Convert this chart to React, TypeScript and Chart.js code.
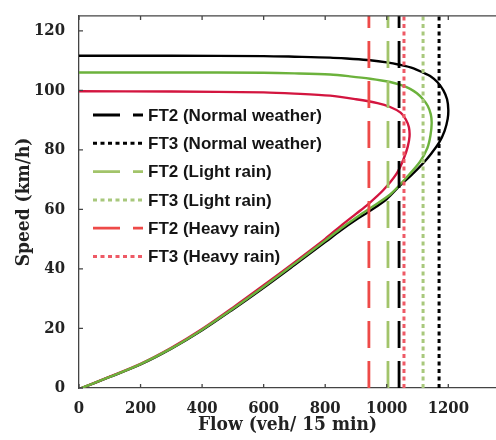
import React, { useEffect, useRef } from 'react';
import { Chart, registerables } from 'chart.js';

Chart.register(...registerables);

// Speed-flow curves (flow in veh/15 min, speed in km/h)
const normalFlow = [8, 100, 200, 300, 400, 500, 600, 700, 800, 850, 900, 946, 1000, 1041, 1080, 1119, 1145, 1170, 1188, 1198, 1200, 1196, 1184, 1165, 1141, 1119, 1087, 1041, 1000, 946, 880, 816, 700, 600, 300, 0];
const normalSpeed = [0, 3.7, 7.9, 13.2, 19.4, 26.4, 33.7, 41.3, 49.0, 52.9, 56.5, 59.5, 63.5, 67.8, 71.5, 75.6, 78.8, 82.4, 86.4, 90.4, 93.5, 97.0, 100.0, 102.7, 104.8, 105.9, 107.4, 108.6, 109.4, 110.1, 110.6, 111.0, 111.3, 111.5, 111.6, 111.6];

const lightFlow = [8, 100, 200, 300, 400, 500, 600, 700, 800, 850, 900, 946, 1011, 1065, 1108, 1132, 1142, 1146, 1143, 1133, 1118, 1098, 1076, 1045, 1011, 946, 880, 816, 700, 600, 300, 0];
const lightSpeed = [0, 3.7, 8.0, 13.3, 19.6, 26.6, 34.0, 41.7, 49.5, 53.5, 57.2, 60.4, 65.0, 70.8, 76.0, 80.6, 84.8, 89.0, 92.0, 94.8, 97.0, 99.0, 100.5, 101.8, 102.8, 103.9, 104.7, 105.3, 105.7, 105.9, 106.0, 106.0];

const heavyFlow = [8, 100, 200, 300, 400, 500, 600, 700, 800, 850, 900, 940, 989, 1032, 1055, 1068, 1074, 1072, 1062, 1045, 1011, 970, 900, 816, 700, 600, 300, 0];
const heavySpeed = [0, 3.8, 8.1, 13.5, 19.8, 27.0, 34.5, 42.2, 50.1, 54.4, 58.5, 61.8, 66.5, 72.0, 77.0, 81.0, 84.5, 87.6, 90.2, 92.5, 94.4, 95.7, 97.0, 98.2, 98.9, 99.3, 99.6, 99.7];

// Capacity lines (vertical)
const capacityLabels = ['FT2 (Normal weather)', 'FT3 (Normal weather)', 'FT2 (Light rain)', 'FT3 (Light rain)', 'FT2 (Heavy rain)', 'FT3 (Heavy rain)'];
const capacityFlow = [1040, 1170, 1004, 1118, 942, 1056];
const capacityColors = ['#000000', '#000000', '#a2c46a', '#a8c87c', '#ee4a48', '#ee5a66'];
const capacityType = ['FT2', 'FT3', 'FT2', 'FT3', 'FT2', 'FT3'];

const xTickValues = [0, 200, 400, 600, 800, 1000, 1200];
const yTickValues = [0, 20, 40, 60, 80, 100, 120];

const X_MAX = 1355;
const Y_MAX = 125;

const SERIF = '"DejaVu Serif Condensed", "DejaVu Serif", serif';

const toPoints = (xs: number[], ys: number[]) => xs.map((x, i) => ({ x, y: ys[i] }));

const framePlugin = {
  id: 'frame',
  afterDatasetsDraw(chart: any) {
    const { ctx, chartArea, scales } = chart;
    const { left, right, top, bottom } = chartArea;
    ctx.save();
    ctx.strokeStyle = '#444';
    ctx.lineWidth = 1.3;
    ctx.setLineDash([]);
    ctx.beginPath();
    ctx.moveTo(left, top);
    ctx.lineTo(right, top);
    for (const v of xTickValues) {
      const px = scales.x.getPixelForValue(v);
      ctx.moveTo(px, bottom);
      ctx.lineTo(px, bottom - 4);
      ctx.moveTo(px, top);
      ctx.lineTo(px, top + 4);
    }
    for (const v of yTickValues) {
      const py = scales.y.getPixelForValue(v);
      ctx.moveTo(left, py);
      ctx.lineTo(left + 4, py);
    }
    ctx.stroke();

    // in-plot legend
    const datasets = chart.data.datasets.filter((d: any) => d.isCapacity);
    ctx.font = 'bold 17px "Liberation Sans", Arial, sans-serif';
    ctx.textBaseline = 'middle';
    ctx.textAlign = 'left';
    datasets.forEach((ds: any, i: number) => {
      const y = 115 + i * 28.3;
      ctx.beginPath();
      ctx.setLineDash(ds.borderDash || []);
      ctx.lineDashOffset = 0;
      ctx.strokeStyle = ds.borderColor;
      ctx.lineWidth = ds.borderWidth;
      ctx.moveTo(93, y);
      ctx.lineTo(143, y);
      ctx.stroke();
      ctx.setLineDash([]);
      ctx.fillStyle = '#151515';
      ctx.fillText(ds.label, 148, y + 1);
    });
    ctx.restore();
  },
};

export default function App() {
  const canvasRef = useRef<HTMLCanvasElement | null>(null);

  useEffect(() => {
    document.body.style.margin = '0';
    const canvas = canvasRef.current;
    if (!canvas) return;

    const curveDatasets = [
      { label: 'Normal weather', data: toPoints(normalFlow, normalSpeed), color: '#000000', order: 4 },
      { label: 'Light rain', data: toPoints(lightFlow, lightSpeed), color: '#6cb23c', order: 2 },
      { label: 'Heavy rain', data: toPoints(heavyFlow, heavySpeed), color: '#d3153f', order: 3 },
    ].map((c) => ({
      label: c.label,
      data: c.data,
      showLine: true,
      borderColor: c.color,
      backgroundColor: c.color,
      borderWidth: 2.4,
      pointRadius: 0,
      tension: 0.3,
      fill: false,
      order: c.order,
      isCapacity: false,
    }));

    const capacityDatasets = capacityLabels.map((label, i) => ({
      label,
      data: [
        { x: capacityFlow[i], y: 0 },
        { x: capacityFlow[i], y: Y_MAX },
      ],
      showLine: true,
      borderColor: capacityColors[i],
      backgroundColor: capacityColors[i],
      borderWidth: capacityType[i] === 'FT2' ? 2.8 : 3,
      borderDash: capacityType[i] === 'FT2' ? [27, 13] : [4, 3.5],
      pointRadius: 0,
      tension: 0,
      fill: false,
      order: 1,
      isCapacity: true,
    }));

    const chart = new Chart(canvas, {
      type: 'scatter',
      data: { datasets: [...capacityDatasets, ...curveDatasets] as any },
      options: {
        animation: false,
        responsive: false,
        maintainAspectRatio: false,
        layout: { padding: { top: 8, right: 0, left: 0, bottom: 0 } },
        plugins: {
          legend: { display: false },
          tooltip: { enabled: false },
        },
        scales: {
          x: {
            type: 'linear',
            min: 0,
            max: X_MAX,
            afterBuildTicks: (scale: any) => {
              scale.ticks = xTickValues.map((v) => ({ value: v }));
            },
            afterFit: (scale: any) => {
              scale.height = 52;
            },
            grid: { display: false },
            border: { display: true, color: '#444', width: 1.3 },
            ticks: {
              color: '#222',
              padding: 3,
              maxRotation: 0,
              autoSkip: false,
              font: { family: SERIF, size: 16.5, weight: 'bold' },
              callback: (v: any) => String(v),
            },
            title: {
              display: true,
              text: 'Flow (veh/ 15 min)',
              color: '#222',
              padding: { top: 0, bottom: 4 },
              font: { family: SERIF, size: 19, weight: 'bold' },
            },
          },
          y: {
            type: 'linear',
            min: 0,
            max: Y_MAX,
            afterBuildTicks: (scale: any) => {
              scale.ticks = yTickValues.map((v) => ({ value: v }));
            },
            afterFit: (scale: any) => {
              scale.width = 79;
            },
            grid: { display: false },
            border: { display: true, color: '#444', width: 1.3 },
            ticks: {
              color: '#222',
              padding: 6,
              autoSkip: false,
              font: { family: SERIF, size: 16.5, weight: 'bold' },
              callback: (v: any) => String(v),
            },
            title: {
              display: true,
              text: 'Speed (km/h)',
              color: '#222',
              padding: { top: 13, bottom: 0 },
              font: { family: SERIF, size: 19, weight: 'bold' },
            },
          },
        },
      },
      plugins: [framePlugin],
    });

    return () => chart.destroy();
  }, []);

  return (
    <div style={{ width: 496, height: 440 }}>
      <canvas ref={canvasRef} width={496} height={440} style={{ display: 'block' }} />
    </div>
  );
}
